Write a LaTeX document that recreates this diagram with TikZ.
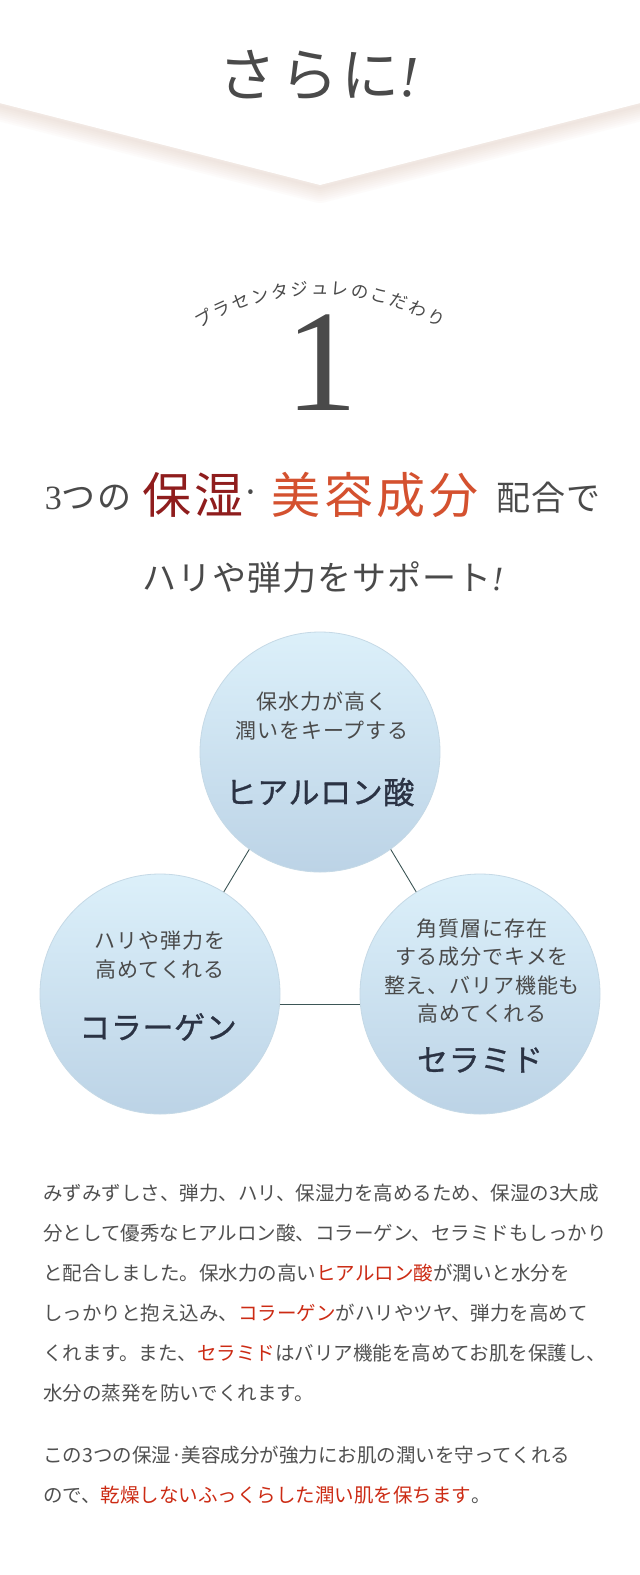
\documentclass[tikz,border=0pt]{standalone}
\usepackage{fontspec}
\setmainfont{Liberation Serif}
\newfontfamily\jpfont{Noto Sans CJK JP}
\usetikzlibrary{calc}
\definecolor{inkgray}{HTML}{4A4A4A}
\definecolor{bodygray}{HTML}{505050}
\definecolor{bodyred}{HTML}{CC2B14}
\definecolor{moistred}{HTML}{8F1D1D}
\definecolor{beautyred}{HTML}{D4512F}
\definecolor{circtop}{HTML}{DCF0FA}
\definecolor{circbottom}{HTML}{BCD3E6}
\definecolor{circedge}{HTML}{C5D9E6}
\definecolor{linkgray}{HTML}{3D5656}
\definecolor{titlenavy}{HTML}{2B3344}
\definecolor{shadowbeige}{HTML}{DDBFAE}
\newcommand\redword[1]{\textcolor{bodyred}{#1}}
\begin{document}
\begin{tikzpicture}
[x=1pt,y=-1pt,
  circdecorate/.style={shape=circle,minimum size=240pt,inner sep=0pt,top color=circtop,bottom color=circbottom,draw=circedge,line width=0.8pt},%
  linedecorate/.style={-,draw=linkgray,line width=0.9pt},%
  descdecorate/.style={align=center,text=inkgray,inner sep=0pt,font=\jpfont\fontsize{21}{28.5}\selectfont\addfontfeature{LetterSpace=4}},%
  titledecorate/.style={inner sep=0pt,text=titlenavy,font=\jpfont\fontsize{31}{36}\selectfont\addfontfeature{LetterSpace=2,FakeBold=1}},%
  headsmall/.style={inner sep=0pt,text=inkgray,font=\jpfont\fontsize{34}{36}\selectfont\addfontfeature{LetterSpace=3}},%
  headbig/.style={inner sep=0pt,font=\jpfont\fontsize{49}{50}\selectfont\addfontfeature{LetterSpace=7}},%
  bodydecorate/.style={anchor=west,inner sep=0pt,text=bodygray,font=\jpfont\fontsize{19.5}{20}\selectfont},%
  arcdecorate/.style={inner sep=0pt,text height=12pt,text depth=3pt,text=inkgray,font=\jpfont\fontsize{17.5}{17.5}\selectfont},%
  shadowdecorate/.style={draw=shadowbeige,opacity=0.05,line join=round}]
\useasboundingbox (0,0) rectangle (640,1575);
\fill[white] (0,0) rectangle (640,1575);
%% heading chevron
\foreach \w in {30,26,...,2} {
  \draw[shadowdecorate,line width=\w pt] (-20,101) -- (320,188) -- (660,101);
}
\fill[white] (-20,-20) -- (660,-20) -- (660,98) -- (320,185) -- (-20,98) -- cycle;
\node[inner sep=0pt,text=inkgray,font=\jpfont\fontsize{58}{60}\selectfont\addfontfeature{LetterSpace=6}] (more) at (319,75) {さらに{\rmfamily\itshape !}};
%% curved caption and number
\foreach \ch [count=\i] in {プ,ラ,セ,ン,タ,ジ,ュ,レ,の,こ,だ,わ,り} {
  \pgfmathsetmacro\ang{119.3-(\i-1)*4.88}
  \node[arcdecorate,rotate=\ang-90] (arc\i) at ({320+235*cos(\ang)},{525-235*sin(\ang)}) {\ch};
}
\node[inner sep=0pt,text height=98pt,text depth=0pt,text=inkgray,font=\fontsize{145}{145}\selectfont] (one) at (322,361) {1};
%% headline
\node[headsmall] (three) at (88,498) {{\rmfamily 3}つの};
\node[headbig,text=moistred] (moist) at (193,495) {保湿};
\node[headsmall] (dot) at (251,497) {·};
\node[headbig,text=beautyred] (beauty) at (375,495) {美容成分};
\node[headsmall] (blend) at (549,498) {配合で};
\node[headsmall] (support) at (323,577) {ハリや弾力をサポート{\rmfamily\itshape !}};
%% nodes or vertices
\foreach \nodename/\x/\y in {hyal/320/752, collagen/160/994, ceramide/480/994} {
  \node[circdecorate] (\nodename) at (\x,\y) {};
}
\node[descdecorate] (hyaldesc) at (322,716) {保水力が高く\\潤いをキープする};
\node[titledecorate] (hyaltitle) at (320,792) {ヒアルロン酸};
\node[descdecorate] (collagendesc) at (160,955) {ハリや弾力を\\高めてくれる};
\node[titledecorate] (collagentitle) at (158,1027) {コラーゲン};
\node[descdecorate] (ceramidedesc) at (482,971) {角質層に存在\\する成分でキメを\\整え、バリア機能も\\高めてくれる};
\node[titledecorate] (ceramidetitle) at (480,1060) {セラミド};
%% edges or lines
\draw[linedecorate] (hyal.234) -- (collagen.58);
\draw[linedecorate] (hyal.306) -- (ceramide.122);
\draw[linedecorate] (collagen.-5) -- (ceramide.185);
%% body text
\foreach \linename/\y/\words in {
  bodya/1193/{みずみずしさ、弾力、ハリ、保湿力を高めるため、保湿の3大成},
  bodyb/1233/{分として優秀なヒアルロン酸、コラーゲン、セラミドもしっかり},
  bodyc/1273/{と配合しました。保水力の高い\redword{ヒアルロン酸}が潤いと水分を},
  bodyd/1313/{しっかりと抱え込み、\redword{コラーゲン}がハリやツヤ、弾力を高めて},
  bodye/1353/{くれます。また、\redword{セラミド}はバリア機能を高めてお肌を保護し、},
  bodyf/1393/{水分の蒸発を防いでくれます。},
  bodyg/1455/{この3つの保湿·美容成分が強力にお肌の潤いを守ってくれる},
  bodyh/1495/{ので、\redword{乾燥しないふっくらした潤い肌を保ちます}。}}
{
  \node[bodydecorate] (\linename) at (43,\y) {\words};
}
\end{tikzpicture}
\end{document}
